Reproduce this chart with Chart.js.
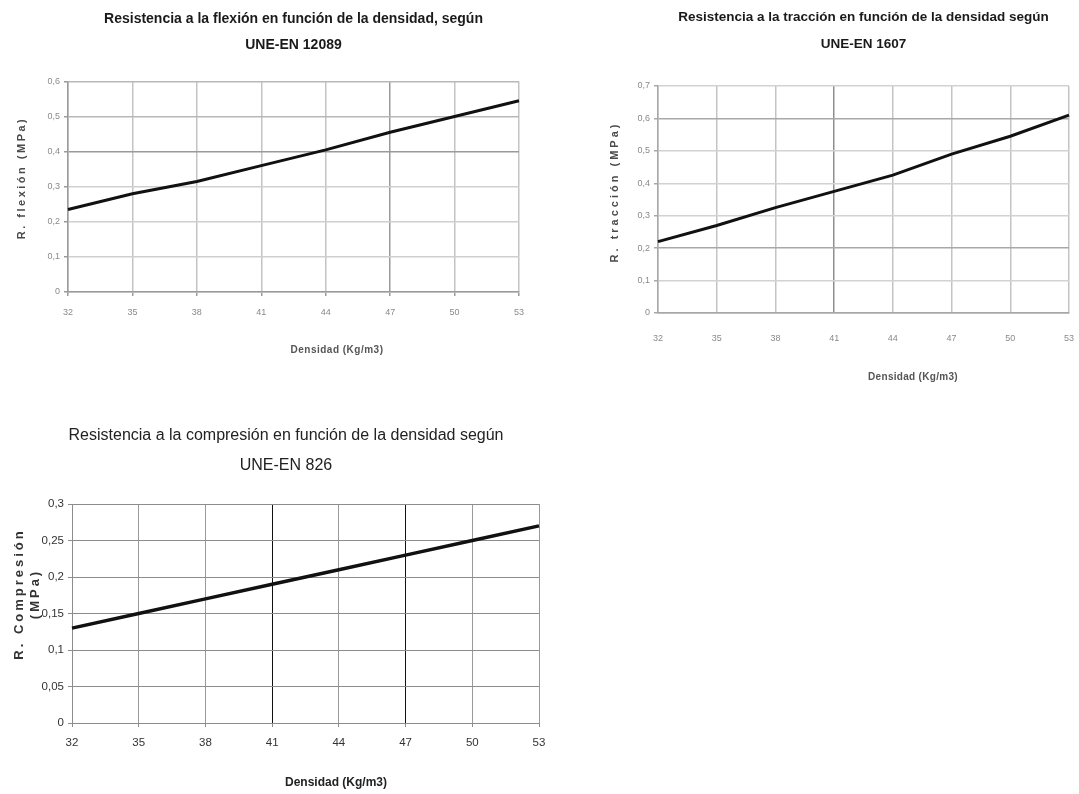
<!DOCTYPE html>
<html>
<head>
<meta charset="utf-8">
<script src="https://cdn.jsdelivr.net/npm/chart.js@4.4.1/dist/chart.umd.min.js"></script>
<style>
  html, body { margin: 0; padding: 0; background: #ffffff; }
  body { width: 1079px; height: 794px; position: relative; overflow: hidden; }
  .box { position: absolute; }
</style>
</head>
<body>
<div class="box" style="left:0px;top:0px;width:545px;height:370px;"><canvas id="c1"></canvas></div>
<div class="box" style="left:580px;top:0px;width:499px;height:390px;"><canvas id="c2"></canvas></div>
<div class="box" style="left:0px;top:400px;width:560px;height:394px;"><canvas id="c3"></canvas></div>
<script>
// ---- data ----
const densidad = ['32', '35', '38', '41', '44', '47', '50', '53'];
const flexion = [0.235, 0.28, 0.315, 0.36, 0.405, 0.455, 0.50, 0.545];
const traccion = [0.22, 0.27, 0.325, 0.375, 0.425, 0.49, 0.545, 0.61];
const compresion = [0.13, 0.15, 0.17, 0.19, 0.21, 0.23, 0.25, 0.27];

const titleFlexion = ['Resistencia a la flexión en función de la densidad, según', 'UNE-EN 12089'];
const titleTraccion = ['Resistencia a la tracción en función de la densidad según', 'UNE-EN 1607'];
const titleCompresion = ['Resistencia a la compresión en función de la densidad según', 'UNE-EN 826'];
const yTitleFlexion = ['R. flexión (MPa)'];
const yTitleTraccion = ['R. tracción (MPa)'];
const yTitleCompresion = ['R. Compresión', '(MPa)'];
const xTitle = ['Densidad (Kg/m3)'];

const SANS = "'Liberation Sans', Arial, sans-serif";

function fmt(v) { return Number(v.toFixed(2)).toString().replace('.', ','); }

// draws titles (with optional letter spacing / rotation) at given canvas positions
const textItemsPlugin = {
  id: 'textItemsAt',
  afterDraw(chart, args, opts) {
    const ctx = chart.ctx;
    (opts.items || []).forEach((it) => {
      ctx.save();
      ctx.font = it.font;
      ctx.fillStyle = it.color;
      ctx.textAlign = 'center';
      ctx.textBaseline = 'middle';
      if ('letterSpacing' in ctx) ctx.letterSpacing = it.spacing || '0px';
      ctx.translate(it.x, it.y);
      if (it.rotate) ctx.rotate(-Math.PI / 2);
      it.text.forEach((t, i) => ctx.fillText(t, 0, i * (it.lh || 0)));
      ctx.restore();
    });
  }
};

function makeChart(id, cfg) {
  return new Chart(document.getElementById(id), {
    type: 'line',
    plugins: [textItemsPlugin],
    data: {
      labels: densidad,
      datasets: [{
        data: cfg.data,
        borderColor: '#111111',
        borderWidth: cfg.lineWidth,
        pointRadius: 0,
        tension: 0,
        fill: false
      }]
    },
    options: {
      responsive: true,
      maintainAspectRatio: false,
      animation: false,
      layout: { padding: { left: 0, right: cfg.padRight, top: cfg.padTop || 0, bottom: 0 } },
      plugins: {
        legend: { display: false },
        tooltip: { enabled: false },
        title: cfg.title ? {
          display: true,
          fullSize: false,
          text: cfg.title,
          color: cfg.titleColor,
          font: { family: SANS, size: cfg.titleSize, weight: cfg.titleWeight, lineHeight: cfg.titleLH },
          padding: { top: cfg.titlePadTop, bottom: cfg.titlePadBottom }
        } : { display: false },
        textItemsAt: { items: cfg.textItems }
      },
      scales: {
        x: {
          type: 'category',
          offset: false,
          afterFit: (s) => { s.height = cfg.xHeight; },
          grid: {
            color: (ctx) => cfg.vGrid(ctx.index),
            lineWidth: cfg.gridWidth,
            tickLength: cfg.xTickLen,
            tickColor: cfg.xTickColor
          },
          border: { color: cfg.axisColor, width: cfg.gridWidth },
          ticks: { color: cfg.tickColor, font: { family: SANS, size: cfg.tickSize }, padding: cfg.xTickPad, maxRotation: 0, autoSkip: false },
          title: { display: false }
        },
        y: {
          type: 'linear',
          min: 0,
          max: cfg.yMax,
          afterFit: (s) => { s.width = cfg.yWidth; },
          ticks: {
            stepSize: cfg.yStep,
            color: cfg.tickColor,
            font: { family: SANS, size: cfg.tickSize },
            padding: 4,
            callback: (v) => fmt(v)
          },
          grid: {
            color: (ctx) => cfg.hGrid(ctx.index),
            lineWidth: cfg.gridWidth,
            tickLength: 4,
            tickColor: cfg.axisColor
          },
          border: { color: cfg.axisColor, width: cfg.gridWidth },
          title: { display: false }
        }
      }
    }
  });
}

// Chart 1: flexión
makeChart('c1', {
  data: flexion, lineWidth: 3, padRight: 26,
  title: titleFlexion, titleColor: '#1a1a1a', titleSize: 14, titleWeight: 'bold', titleLH: 1.8,
  titlePadTop: 7, titlePadBottom: 24,
  xHeight: 78, yWidth: 68, yMax: 0.6, yStep: 0.1,
  vGrid: (i) => (i === 5 ? '#9a9a9a' : '#c4c4c4'),
  hGrid: (i) => (i === 4 ? '#9a9a9a' : (i === 5 || i === 6 ? '#b8b8b8' : '#cfcfcf')),
  gridWidth: 1.5, axisColor: '#9a9a9a',
  xTickLen: 4, xTickColor: '#9a9a9a',
  tickColor: '#8a8a8a', tickSize: 9, xTickPad: 11,
  textItems: [
    { text: yTitleFlexion, x: 22, y: 178, rotate: true, font: "bold 11px 'Liberation Sans', Arial, sans-serif", color: '#4a4a4a', spacing: '2.5px' },
    { text: xTitle, x: 337, y: 350, rotate: false, font: "bold 10px 'Liberation Sans', Arial, sans-serif", color: '#555555', spacing: '0.5px' }
  ]
});

// Chart 2: tracción
makeChart('c2', {
  data: traccion, lineWidth: 3, padRight: 10,
  title: titleTraccion, titleColor: '#1a1a1a', titleSize: 13.5, titleWeight: 'bold', titleLH: 2.0,
  titlePadTop: 4, titlePadBottom: 28,
  xHeight: 77, yWidth: 78, yMax: 0.7, yStep: 0.1,
  vGrid: (i) => (i === 3 ? '#8f8f8f' : '#c4c4c4'),
  hGrid: (i) => (i === 0 || i === 2 || i === 6 ? '#a8a8a8' : '#d2d2d2'),
  gridWidth: 1.5, axisColor: '#a8a8a8',
  xTickLen: 16, xTickColor: 'rgba(0,0,0,0)',
  tickColor: '#8a8a8a', tickSize: 9, xTickPad: 4,
  textItems: [
    { text: yTitleTraccion, x: 35, y: 192, rotate: true, font: "bold 11px 'Liberation Sans', Arial, sans-serif", color: '#4a4a4a', spacing: '3px' },
    { text: xTitle, x: 333, y: 377, rotate: false, font: "bold 10px 'Liberation Sans', Arial, sans-serif", color: '#555555', spacing: '0.3px' }
  ]
});

// Chart 3: compresión (title drawn by the text plugin, centred like the reference)
makeChart('c3', {
  data: compresion, lineWidth: 3.5, padRight: 21, padTop: 104,
  title: null,
  xHeight: 71, yWidth: 72, yMax: 0.3, yStep: 0.05,
  vGrid: (i) => (i === 3 || i === 5 ? '#111111' : '#9a9a9a'),
  hGrid: (i) => '#8c8c8c',
  gridWidth: 1, axisColor: '#8c8c8c',
  xTickLen: 4, xTickColor: '#8c8c8c',
  tickColor: '#333333', tickSize: 11.5, xTickPad: 9,
  textItems: [
    { text: titleCompresion, x: 286, y: 36, lh: 30, rotate: false, font: "16px 'Liberation Sans', Arial, sans-serif", color: '#222222', spacing: '0px' },
    { text: yTitleCompresion, x: 19, y: 194, lh: 16, rotate: true, font: "bold 13px 'Liberation Sans', Arial, sans-serif", color: '#333333', spacing: '3px' },
    { text: xTitle, x: 336, y: 383, rotate: false, font: "bold 12px 'Liberation Sans', Arial, sans-serif", color: '#222222', spacing: '0px' }
  ]
});
</script>
</body>
</html>
